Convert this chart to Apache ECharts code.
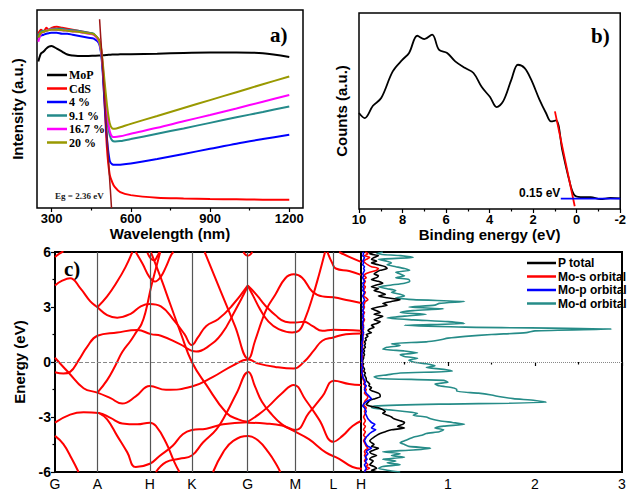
<!DOCTYPE html>
<html><head><meta charset="utf-8">
<script src="https://cdn.jsdelivr.net/npm/echarts@6.0.0/dist/echarts.min.js"></script>
<style>html,body{margin:0;padding:0;background:#fff}#c{width:629px;height:491px}</style>
</head><body><div id="c"></div>
<script>
// ---------- Panel a: diffuse reflectance ----------
const wavelengths = [250,260,270,280,290,300,320,340,360,380,400,420,440,460,480,490,500,510,520,530,540,560,600,700,800,900,1000,1100,1200];
const mopVals  = [74,78,79,80.5,81.5,81.8,80.5,79,77.5,77,76.8,76.8,76.8,76.9,77,77,77.2,77.3,77.4,77.5,77.5,77.6,77.7,77.9,78.3,78.5,78.5,78.2,76.3];
const cdsVals  = [88,90,89,91,90,91,91.5,91,90.5,90,89.5,89,88.5,87.5,85,78,55,30,17,13,10.5,8,6.5,5.2,4.8,4.5,4.4,4.2,4.2];
const p4Vals   = [86,87,87.5,88,88.3,88.5,88.5,88,88,87.5,87,86.5,86,85.5,83,75,55,35,24,22,21.8,21.9,22.5,24.8,27.3,29.9,32.5,34.8,37];
const p91Vals  = [87,89,89.5,89.5,90,90.5,90.5,90.5,90,89.8,89.5,89,88.5,88,84,76,60,45,37,34,33.6,33.8,34.8,37.5,40.2,43,45.8,48.5,51.3];
const p167Vals = [84,88,89,89.5,90,90.2,90,89.8,89.5,89.2,89,88.5,88,87.5,84,77,62,48,39,36,35.8,36.2,37.5,40.5,43.8,47,50.3,53.7,57.1];
const p20Vals  = [86,88.5,89,89.5,89.8,90,90,89.8,89.5,89.2,89,88.6,88.2,87.8,84.5,78,65,52,43,40.2,40,40.8,42.5,46.5,50.5,54.5,58.5,62.5,66.4];
const egLine   = [[482,95.3],[527,0]];
const waveTicks = [300,600,900,1200];
const waveMinor = [450,750,1050];

// ---------- Panel b: XPS valence band ----------
const bindingE = [10,9.74,9.36,8.98,8.45,8.0,7.7,7.32,7.0,6.64,6.33,5.95,5.58,5.12,4.74,4.36,3.98,3.68,3.38,3.0,2.7,2.39,2.09,1.71,1.41,1.18,0.95,0.65,0.35,0.12,-0.18,-0.64,-1.09,-1.55,-2];
const counts   = [49,46.4,52.7,56.6,70.2,76.2,79.6,88.4,86.7,89,81.3,79.6,75.3,71.9,69.4,62.2,57.1,52,54.9,66,73.6,71.9,66,55.8,49,44.7,45.2,29.4,15,7.3,6.1,6.1,5.1,5.6,5.4];
const vbTangent  = [[1.0,49.8],[0.09,1.4]];
const vbBaseline = [[0.73,5.3],[-2,5.3]];

// ---------- Panel c: band structure ----------
const kPositions = [0,126,282,407,573,715,828,910];
const kLabels = ['G','A','H','K','G','M','L','H'];
const band01 = [[0,5.73],[13,5.91],[25,6.04]];
const band02 = [[0,4.17],[20,4.42],[45,4.57],[75,4.03],[105,3.31],[126,2.99],[155,2.56],[185,2.42],[225,2.63],[255,3.04],[282,3.17],[315,3.04],[355,2.24],[385,1.52],[407,0.93],[425,1.34],[450,1.97],[485,2.33],[525,3.04],[573,4.17]];
const band03 = [[126,2.99],[155,3.58],[185,4.39],[210,5.19],[230,6.0]];
const band04 = [[0,0.23],[20,-0.18],[40,-0.57],[85,-1.43],[126,-1.67],[165,-1.97],[200,-2.27],[240,-1.88],[282,-1.31],[330,-1.52],[407,-1.34],[470,-0.81],[530,-0.18],[575,0.13],[605,-0.09],[655,-0.27],[710,-0.36],[740,0.0],[770,0.63],[795,1.16],[828,1.34],[865,1.52],[910,1.56]];
const band05 = [[0,-0.56],[25,-0.63],[45,-0.54],[70,0.09],[95,0.81],[126,1.43],[185,1.61],[245,1.74],[285,1.52],[315,1.43],[370,0.99],[420,0.57],[455,0.84],[495,1.52],[535,2.78],[573,4.12]];
const band06 = [[126,-1.67],[155,-0.99],[180,-0.18],[200,0.54],[225,1.16],[243,1.67],[257,2.06],[270,2.78],[285,4.03],[300,5.10],[313,6.0]];
const band07 = [[285,6.0],[315,4.57],[345,3.04],[375,1.52],[407,0.0],[450,-1.25],[510,-2.78],[545,-3.13],[573,-3.26]];
const band08 = [[445,6.0],[495,3.76],[535,1.97],[575,0.18],[595,1.16],[615,2.24],[630,2.92],[655,3.67],[685,4.57],[710,4.78],[735,4.60],[765,3.85],[795,3.58],[828,3.53],[875,3.35],[910,3.22]];
const band09 = [[573,4.17],[595,3.76],[615,3.31],[630,2.99],[655,2.56],[685,2.20],[715,2.15],[740,2.20],[765,1.97],[795,1.70],[828,1.76],[865,1.74],[910,1.70]];
const band10 = [[573,4.17],[590,3.58],[610,2.87],[635,2.20],[665,1.79],[705,1.61],[725,1.70],[745,2.42],[765,3.49],[785,4.75],[803,6.0]];
const band11 = [[0,-3.31],[45,-2.87],[85,-2.74],[130,-2.78],[165,-3.05],[200,-3.35],[245,-3.40],[282,-3.31],[300,-3.49],[330,-4.39],[355,-5.46],[370,-6.0]];
const band12 = [[130,-2.78],[155,-3.13],[185,-4.03],[215,-4.93],[240,-5.73],[282,-5.55],[310,-5.14],[350,-4.57],[380,-3.94],[407,-3.71],[450,-3.64],[500,-3.40],[573,-3.28]];
const band13 = [[300,-6.0],[330,-5.46],[370,-5.28],[407,-5.10],[440,-4.39],[480,-3.67],[510,-2.78],[540,-1.70],[575,-0.54],[595,-1.34],[615,-2.15],[645,-2.87],[675,-3.40],[710,-3.76],[755,-4.21],[805,-4.93],[845,-5.28],[885,-5.73],[915,-5.82]];
const band14 = [[470,-6.0],[500,-4.93],[530,-4.30],[575,-4.03],[605,-4.30],[635,-4.93],[660,-5.64],[670,-6.0]];
const band15 = [[573,-3.26],[605,-2.87],[635,-2.42],[675,-1.70],[710,-1.25],[745,-2.06],[785,-3.13],[828,-4.35],[855,-4.03],[885,-3.49],[910,-3.22]];
const band16 = [[573,-3.31],[625,-3.35],[675,-3.46],[715,-3.71],[755,-2.78],[795,-1.88],[830,-1.02],[875,-1.20],[910,-1.25]];
const band17 = [[0,-4.03],[25,-4.48],[50,-5.28],[70,-6.0]];
const band18 = [[240,6.0],[260,5.37],[280,4.66],[297,4.39],[315,4.66],[330,5.19],[345,5.82],[352,6.0]];
const band19 = [[275,5.96],[285,5.64],[295,5.55],[305,5.79],[310,6.0]];
const band20 = [[560,6.0],[573,5.79],[587,6.0]];
const band21 = [[810,6.0],[825,5.37],[835,5.10],[875,4.96],[910,4.75]];
const band22 = [[845,6.0],[875,5.73],[910,5.46]];
const bands = [band01,band02,band03,band04,band05,band06,band07,band08,band09,band10,band11,band12,band13,band14,band15,band16,band17,band18,band19,band20,band21,band22];

// ---------- Panel c: DOS (energy 6 -> -6 step 0.1) ----------
const dosEnergy = [6.0,5.9,5.8,5.7,5.6,5.5,5.4,5.3,5.2,5.1,5.0,4.9,4.8,4.7,4.6,4.5,4.4,4.3,4.2,4.1,4.0,3.9,3.8,3.7,3.6,3.5,3.4,3.3,3.2,3.1,3.0,2.9,2.8,2.7,2.6,2.5,2.4,2.3,2.2,2.1,2.0,1.9,1.8,1.7,1.6,1.5,1.4,1.3,1.2,1.1,1.0,0.9,0.8,0.7,0.6,0.5,0.4,0.3,0.2,0.1,0.0,-0.1,-0.2,-0.3,-0.4,-0.5,-0.6,-0.7,-0.8,-0.9,-1.0,-1.1,-1.2,-1.3,-1.4,-1.5,-1.6,-1.7,-1.8,-1.9,-2.0,-2.1,-2.2,-2.3,-2.4,-2.5,-2.6,-2.7,-2.8,-2.9,-3.0,-3.1,-3.2,-3.3,-3.4,-3.5,-3.6,-3.7,-3.8,-3.9,-4.0,-4.1,-4.2,-4.3,-4.4,-4.5,-4.6,-4.7,-4.8,-4.9,-5.0,-5.1,-5.2,-5.3,-5.4,-5.5,-5.6,-5.7,-5.8,-5.9,-6.0];
const dosPTotal = [0.15,0.1,0.2,0.15,0.12,0.18,0.12,0.2,0.28,0.3, 0.22,0.18,0.15,0.2,0.18,0.12,0.2,0.25,0.18,0.12, 0.2,0.15,0.22,0.28,0.2,0.3,0.45,0.35,0.25,0.3, 0.2,0.12,0.18,0.22,0.15,0.25,0.2,0.15,0.22,0.18, 0.12,0.15,0.1,0.08,0.12,0.06,0.08,0.05,0.06,0.04, 0.05,0.04,0.05,0.03,0.04,0.03,0.04,0.03,0.03,0.02, 0.02,0.03,0.02,0.03,0.04,0.03,0.05,0.04,0.05,0.06, 0.06,0.08,0.1,0.09,0.12,0.1,0.14,0.2,0.22,0.22, 0.16,0.1,0.08,0.06,0.1,0.2,0.25,0.28,0.25,0.3, 0.35,0.38,0.45,0.5,0.48,0.42,0.5,0.35,0.28,0.22, 0.18,0.15,0.12,0.1,0.12,0.15,0.12,0.2,0.15,0.1, 0.12,0.18,0.12,0.1,0.14,0.12,0.1,0.15,0.18,0.12, 0.2];
const dosMoS = [0.05,0.08,0.04,0.1,0.06,0.03,0.05,0.08,0.12,0.2, 0.18,0.1,0.05,0.04,0.06,0.03,0.05,0.04,0.03,0.05, 0.04,0.03,0.05,0.04,0.03,0.06,0.08,0.05,0.04,0.03, 0.04,0.03,0.02,0.04,0.03,0.02,0.03,0.04,0.03,0.02, 0.03,0.02,0.03,0.02,0.02,0.03,0.02,0.02,0.02,0.02, 0.02,0.01,0.02,0.01,0.02,0.01,0.01,0.02,0.01,0.01, 0.01,0.01,0.02,0.01,0.01,0.02,0.01,0.01,0.02,0.02, 0.03,0.04,0.03,0.05,0.04,0.06,0.05,0.04,0.06,0.08, 0.07,0.05,0.04,0.03,0.04,0.06,0.05,0.04,0.05,0.04, 0.03,0.04,0.05,0.04,0.03,0.05,0.04,0.03,0.05,0.04, 0.03,0.05,0.04,0.03,0.04,0.05,0.06,0.08,0.05,0.04, 0.05,0.04,0.06,0.05,0.04,0.06,0.08,0.06,0.1,0.05, 0.04];
const dosMoP = [0.02,0.03,0.02,0.04,0.03,0.02,0.03,0.02,0.04,0.03, 0.04,0.03,0.02,0.03,0.02,0.03,0.04,0.02,0.03,0.02, 0.03,0.02,0.04,0.03,0.02,0.03,0.04,0.03,0.02,0.03, 0.02,0.03,0.02,0.03,0.02,0.03,0.02,0.03,0.02,0.02, 0.02,0.03,0.02,0.02,0.03,0.02,0.02,0.02,0.02,0.01, 0.01,0.02,0.01,0.01,0.02,0.01,0.01,0.01,0.01,0.01, 0.01,0.01,0.01,0.02,0.01,0.01,0.01,0.02,0.02,0.03, 0.04,0.05,0.04,0.06,0.05,0.04,0.05,0.06,0.08,0.1, 0.12,0.08,0.05,0.03,0.02,0.04,0.05,0.06,0.05,0.06, 0.07,0.08,0.1,0.12,0.16,0.14,0.12,0.17,0.13,0.1, 0.08,0.06,0.05,0.04,0.05,0.06,0.08,0.12,0.08,0.06, 0.08,0.06,0.05,0.07,0.05,0.06,0.04,0.05,0.06,0.05, 0.04];
const dosMoD = [0.25,0.18,0.45,0.6,0.2,0.3,0.35,0.3,0.4,0.5, 0.56,0.4,0.45,0.5,0.4,0.55,0.56,0.5,0.35,0.2, 0.3,0.4,0.35,0.45,0.5,0.4,0.6,1.19,0.9,0.85, 0.55,0.95,0.6,0.45,0.75,0.5,0.3,0.6,1.0,1.19, 0.5,1.2,2.88,2.0,1.9,1.5,1.2,1.0,0.9,0.75, 0.35,0.45,0.3,0.25,0.5,0.65,0.45,0.5,0.65,0.55, 0.6,0.75,0.85,0.75,0.95,1.05,0.45,0.3,0.15,0.2, 0.95,1.0,0.85,0.9,1.05,1.1,1.1,1.35,1.5,1.6, 1.75,2.0,2.13,0.9,0.15,0.12,0.3,0.5,0.65,0.6, 0.75,0.8,0.9,1.05,1.19,0.95,0.85,0.95,0.9,0.75, 0.7,0.6,0.55,0.5,0.45,0.5,0.55,0.8,0.6,0.25, 0.45,0.35,0.5,0.25,0.4,0.3,0.45,0.25,0.2,0.3, 0.45];

// ---------- build ----------
const SANS = 'Liberation Sans, Arial, sans-serif';
const SERIF = 'Liberation Serif, Times New Roman, serif';
const pair = (xs, ys) => xs.map((x, i) => [x, ys[i]]);
const dosPair = vals => vals.map((v, i) => [v, dosEnergy[i]]);

const chart = echarts.init(document.getElementById('c'), null, {renderer: 'svg'});

const tickLabelBold = {fontFamily: SANS, fontWeight: 'bold', fontSize: 13, color: '#000'};
const axisNameStyle = {fontFamily: SANS, fontWeight: 'bold', fontSize: 15, color: '#000'};

const series = [];
const aLine = (name, vals, color) => ({
  name, type: 'line', xAxisIndex: 0, yAxisIndex: 0, data: pair(wavelengths, vals),
  symbol: 'none', smooth: 0.3, lineStyle: {color, width: 2}, itemStyle: {color}
});
series.push(aLine('MoP', mopVals, '#000000'));
series.push(aLine('CdS', cdsVals, '#ff0000'));
series.push(aLine('4 %', p4Vals, '#0000ff'));
series.push(aLine('9.1 %', p91Vals, '#248a8a'));
series.push(aLine('16.7 %', p167Vals, '#ff00ff'));
series.push(aLine('20 %', p20Vals, '#999900'));
series.push({type: 'line', xAxisIndex: 0, yAxisIndex: 0, data: egLine, symbol: 'none',
  lineStyle: {color: '#9b1515', width: 1.5}});

// panel b
series.push({type: 'line', xAxisIndex: 2, yAxisIndex: 1, data: pair(bindingE, counts), symbol: 'none', smooth: 0.35,
  lineStyle: {color: '#000', width: 1.8}});
series.push({type: 'line', xAxisIndex: 2, yAxisIndex: 1, data: vbTangent, symbol: 'none', lineStyle: {color: '#ff0000', width: 1.8}});
series.push({type: 'line', xAxisIndex: 2, yAxisIndex: 1, data: vbBaseline, symbol: 'none', lineStyle: {color: '#0000ff', width: 1.8}});

// panel c bands
bands.forEach((b, i) => {
  const s = {type: 'line', xAxisIndex: 3, yAxisIndex: 2, data: b, symbol: 'none', smooth: 0.45,
    lineStyle: {color: '#ff0000', width: 2}, z: 3};
  if (i === 0) {
    s.markLine = {silent: true, symbol: ['none', 'none'], label: {show: false}, animation: false,
      lineStyle: {color: '#555', width: 1.2, type: 'solid'},
      data: kPositions.slice(1, 7).map(v => ({xAxis: v}))};
  }
  if (i === 1) {
    s.markLine = {silent: true, symbol: ['none', 'none'], label: {show: false}, animation: false,
      lineStyle: {color: '#888', width: 1, type: 'dashed'}, data: [{yAxis: 0}]};
  }
  series.push(s);
});

// panel c DOS
const dosLine = (name, vals, color, w) => ({name, type: 'line', xAxisIndex: 4, yAxisIndex: 3, data: dosPair(vals),
  symbol: 'none', smooth: 0.2, lineStyle: {color, width: w}, itemStyle: {color}});
const dosD = dosLine('Mo-d orbital', dosMoD, '#268c88', 1.6);
dosD.markLine = {silent: true, symbol: ['none', 'none'], label: {show: false}, animation: false,
  lineStyle: {color: '#888', width: 1, type: 'dotted'}, data: [{yAxis: 0}]};
series.push(dosD);
series.push(dosLine('P total', dosPTotal, '#000000', 1.6));
series.push(dosLine('Mo-s orbital', dosMoS, '#ff0000', 1.6));
series.push(dosLine('Mo-p orbital', dosMoP, '#0000ff', 1.6));

const option = {
  animation: false,
  backgroundColor: '#fff',
  grid: [
    {left: 37, top: 10, width: 266, height: 198, show: true, borderColor: '#000', borderWidth: 1.5, backgroundColor: 'transparent'},
    {left: 359, top: 13, width: 264, height: 196, show: true, borderColor: '#000', borderWidth: 1.5, backgroundColor: 'transparent'},
    {left: 55, top: 252, width: 306, height: 224, show: true, borderColor: '#000', borderWidth: 2, backgroundColor: 'transparent'},
    {left: 361, top: 252, width: 261, height: 224, show: true, borderColor: '#000', borderWidth: 2, backgroundColor: 'transparent'}
  ],
  xAxis: [
    {gridIndex: 0, type: 'value', min: 245, max: 1252, position: 'bottom',
      axisLine: {show: false}, splitLine: {show: false},
      axisTick: {show: true, customValues: waveTicks, length: 4, lineStyle: {color: '#000', width: 1.2}},
      axisLabel: {customValues: waveTicks, margin: 4, ...tickLabelBold, formatter: v => String(v)},
      name: 'Wavelength (nm)', nameLocation: 'middle', nameGap: 12, nameTextStyle: axisNameStyle},
    {gridIndex: 0, type: 'value', min: 245, max: 1252, position: 'bottom',
      axisLine: {show: false}, splitLine: {show: false},
      axisTick: {show: true, customValues: waveMinor, length: 2.5, lineStyle: {color: '#000', width: 1.2}},
      axisLabel: {show: false}},
    {gridIndex: 1, type: 'value', min: -2, max: 10, interval: 2, inverse: true, position: 'bottom',
      axisLine: {show: false}, splitLine: {show: false},
      axisTick: {show: true, length: 4, lineStyle: {color: '#000', width: 1.2}},
      minorTick: {show: true, splitNumber: 2, length: 2.5, lineStyle: {color: '#000', width: 1.2}},
      axisLabel: {margin: 4, ...tickLabelBold, formatter: v => String(v)},
      name: 'Binding energy (eV)', nameLocation: 'middle', nameGap: 14, nameTextStyle: axisNameStyle},
    {gridIndex: 2, type: 'value', min: 0, max: 910, position: 'bottom',
      axisLine: {show: false}, splitLine: {show: false},
      axisTick: {show: false},
      axisLabel: {customValues: kPositions, margin: 5, fontFamily: SANS, fontSize: 14, color: '#000',
        formatter: v => kLabels[kPositions.indexOf(v)]}},
    {gridIndex: 3, type: 'value', min: 0, max: 3, interval: 1, position: 'bottom',
      axisLine: {show: false}, splitLine: {show: false},
      axisTick: {show: true, length: 4, lineStyle: {color: '#000', width: 1.2}},
      minorTick: {show: true, splitNumber: 2, length: 2.5, lineStyle: {color: '#000', width: 1.2}},
      axisLabel: {margin: 5, fontFamily: SANS, fontSize: 14, color: '#000', formatter: v => (v === 0 ? '' : String(v))}}
  ],
  yAxis: [
    {gridIndex: 0, type: 'value', min: 0, max: 100, axisLine: {show: false}, axisTick: {show: false},
      axisLabel: {show: false}, splitLine: {show: false},
      name: 'Intensity (a.u.)', nameLocation: 'middle', nameGap: 12, nameTextStyle: axisNameStyle},
    {gridIndex: 1, type: 'value', min: 0, max: 100, axisLine: {show: false}, axisTick: {show: false},
      axisLabel: {show: false}, splitLine: {show: false},
      name: 'Counts (a.u.)', nameLocation: 'middle', nameGap: 10, nameTextStyle: axisNameStyle},
    {gridIndex: 2, type: 'value', min: -6, max: 6, interval: 3, axisLine: {show: false}, splitLine: {show: false},
      axisTick: {show: true, length: 4, lineStyle: {color: '#000', width: 1.2}},
      minorTick: {show: true, splitNumber: 2, length: 2.5, lineStyle: {color: '#000', width: 1.2}},
      axisLabel: {margin: 4, ...tickLabelBold, fontSize: 14},
      name: 'Energy (eV)', nameLocation: 'middle', nameGap: 28, nameTextStyle: axisNameStyle},
    {gridIndex: 3, type: 'value', min: -6, max: 6, axisLine: {show: false}, axisTick: {show: false},
      axisLabel: {show: false}, splitLine: {show: false}}
  ],
  legend: [
    {data: ['MoP', 'CdS', '4 %', '9.1 %', '16.7 %', '20 %'], orient: 'vertical', left: 42, top: 64,
      icon: 'rect', itemWidth: 20, itemHeight: 2.5, itemGap: 1.5,
      textStyle: {fontFamily: SERIF, fontWeight: 'bold', fontSize: 12, color: '#000', padding: [0, 0, 0, -3]}},
    {data: ['P total', 'Mo-s orbital', 'Mo-p orbital', 'Mo-d orbital'], orient: 'vertical', left: 522, top: 252,
      icon: 'rect', itemWidth: 29, itemHeight: 2.5, itemGap: 1.5,
      textStyle: {fontFamily: SANS, fontWeight: 'bold', fontSize: 12, color: '#000', padding: [0, 0, 0, -3]}}
  ],
  graphic: [
    {type: 'text', left: 270, top: 24, style: {text: 'a)', font: 'bold 21px ' + SERIF, fill: '#000'}},
    {type: 'text', left: 591, top: 25, style: {text: 'b)', font: 'bold 21px ' + SERIF, fill: '#000'}},
    {type: 'text', left: 64, top: 258, style: {text: 'c)', font: 'bold 21px ' + SERIF, fill: '#000'}},
    {type: 'text', left: 55, top: 191, style: {text: 'Eg = 2.36 eV', font: 'bold 9px ' + SERIF, fill: '#222'}},
    {type: 'text', left: 519, top: 187, style: {text: '0.15 eV', font: 'bold 12px ' + SANS, fill: '#000'}}
  ],
  series
};
chart.setOption(option);
</script></body></html>
